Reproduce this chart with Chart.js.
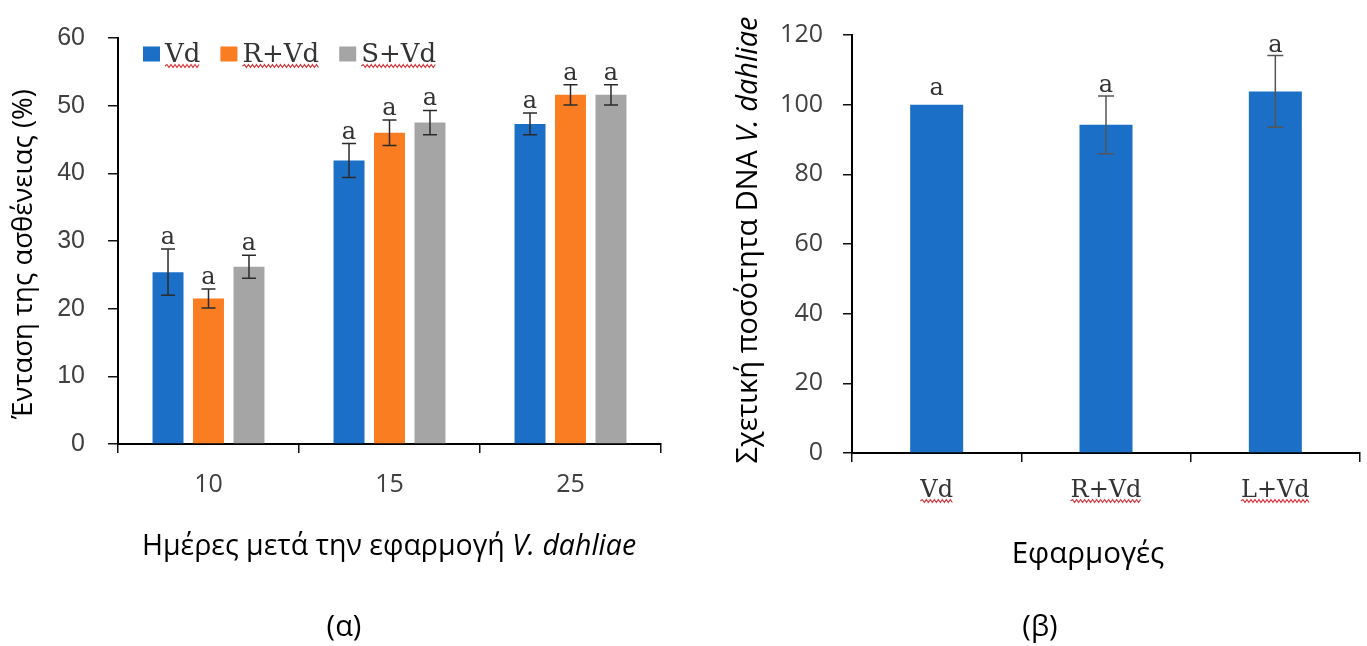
<!DOCTYPE html>
<html>
<head>
<meta charset="utf-8">
<script src="https://cdn.jsdelivr.net/npm/chart.js@4.4.0/dist/chart.umd.min.js"></script>
<style>
  html, body { margin: 0; padding: 0; background: #ffffff; }
  #wrap { position: relative; width: 1367px; height: 646px; overflow: hidden; }
  #wrap canvas { position: absolute; top: 0; }
</style>
</head>
<body>
<div id="wrap">
  <canvas id="severity" width="680" height="646" style="left:0px"></canvas>
  <canvas id="dna" width="687" height="646" style="left:680px"></canvas>
</div>
<script>
// ---- Disease severity (%) by days after V. dahliae inoculation ----
const days = ['10', '15', '25'];
const vdSeverity      = [25.4, 41.9, 47.3];
const vdSeverityErr   = [3.4, 2.5, 1.6];
const rvdSeverity     = [21.5, 46.0, 51.6];
const rvdSeverityErr  = [1.4, 1.9, 1.5];
const svdSeverity     = [26.2, 47.5, 51.6];
const svdSeverityErr  = [1.7, 1.8, 1.5];
const vdLetters  = ['a', 'a', 'a'];
const rvdLetters = ['a', 'a', 'a'];
const svdLetters = ['a', 'a', 'a'];
const severityTicks = [0, 10, 20, 30, 40, 50, 60];

// ---- Relative V. dahliae DNA amount per treatment ----
const treatments = ['Vd', 'R+Vd', 'L+Vd'];
const dnaAmount  = [100, 94.2, 103.8];
const dnaErr     = [0, 8.3, 10.3];
const dnaLetters = ['a', 'a', 'a'];
const dnaTicks   = [0, 20, 40, 60, 80, 100, 120];

const BLUE = '#1b6fc6';
const ORANGE = '#fa7d22';
const GRAY = '#a5a5a5';
const SANS = "'Open Sans', 'Noto Sans', sans-serif";
const SERIF = "'DejaVu Serif', 'Liberation Serif', serif";

// Draws a row of text runs (some italic) centred on (cx, cy), optionally rotated.
function drawRuns(ctx, runs, cx, cy, size, angle, color) {
  ctx.save();
  ctx.translate(cx, cy);
  ctx.rotate(angle || 0);
  ctx.textBaseline = 'middle';
  ctx.textAlign = 'left';
  ctx.fillStyle = color || '#000';
  let total = 0;
  const widths = runs.map(r => {
    ctx.font = (r.italic ? 'italic ' : '') + size + 'px ' + SANS;
    const w = ctx.measureText(r.text).width;
    total += w;
    return w;
  });
  let x = -total / 2;
  runs.forEach((r, i) => {
    ctx.font = (r.italic ? 'italic ' : '') + size + 'px ' + SANS;
    ctx.fillText(r.text, x, 0);
    x += widths[i];
  });
  ctx.restore();
}

// Red wavy spell-check style underline.
function wavyLine(ctx, x0, x1, y) {
  ctx.save();
  ctx.strokeStyle = '#d8393f';
  ctx.lineWidth = 1.2;
  ctx.beginPath();
  let up = true;
  ctx.moveTo(x0, y);
  for (let x = x0 + 2; x <= x1; x += 2) {
    ctx.lineTo(x, up ? y - 1.5 : y + 1.5);
    up = !up;
  }
  ctx.stroke();
  ctx.restore();
}

// Error bars and significance letters from each dataset's errors/letters arrays.
const errorBarPlugin = {
  id: 'errorBars',
  afterDatasetsDraw(chart, args, opts) {
    const ctx = chart.ctx;
    const yScale = chart.scales.y;
    chart.data.datasets.forEach((ds, i) => {
      const meta = chart.getDatasetMeta(i);
      meta.data.forEach((bar, j) => {
        const v = ds.data[j];
        const e = (ds.errors && ds.errors[j]) || 0;
        const yTop = yScale.getPixelForValue(v + e);
        const yBot = yScale.getPixelForValue(v - e);
        const x = bar.x;
        if (e > 0) {
          ctx.save();
          ctx.strokeStyle = opts.color;
          ctx.lineWidth = 1.5;
          ctx.beginPath();
          ctx.moveTo(x, yTop); ctx.lineTo(x, yBot);
          ctx.moveTo(x - opts.cap, yTop); ctx.lineTo(x + opts.cap, yTop);
          ctx.moveTo(x - opts.cap, yBot); ctx.lineTo(x + opts.cap, yBot);
          ctx.stroke();
          ctx.restore();
        }
        if (ds.letters && ds.letters[j]) {
          ctx.save();
          ctx.fillStyle = '#333333';
          ctx.font = opts.letterSize + 'px ' + SERIF;
          ctx.textAlign = 'center';
          ctx.textBaseline = 'alphabetic';
          ctx.fillText(ds.letters[j], x, yTop - (e > 0 ? opts.gap : opts.gapNoErr));
          ctx.restore();
        }
      });
    });
  }
};

// Free text: axis titles with italic species name, and panel captions.
const textPlugin = {
  id: 'freeText',
  afterDraw(chart, args, opts) {
    (opts.items || []).forEach(it => {
      drawRuns(chart.ctx, it.runs, it.x, it.y, it.size, it.angle, it.color);
    });
  }
};

// Legend drawn inside the plot, top-left.
const innerLegendPlugin = {
  id: 'innerLegend',
  afterDraw(chart, args, opts) {
    if (!opts.show) return;
    const ctx = chart.ctx;
    let x = opts.x;
    ctx.save();
    ctx.font = opts.size + 'px ' + SERIF;
    ctx.textBaseline = 'middle';
    ctx.textAlign = 'left';
    chart.data.datasets.forEach(ds => {
      ctx.fillStyle = ds.backgroundColor;
      ctx.fillRect(x, opts.y - 7.5, 17, 15);
      const tx = x + 22;
      const w = ctx.measureText(ds.label).width;
      ctx.fillStyle = '#333333';
      ctx.fillText(ds.label, tx, opts.y + 1);
      wavyLine(ctx, tx, tx + w, opts.y + 12);
      x = tx + w + 20;
    });
    ctx.restore();
  }
};

// Wavy underline under category labels.
const tickUnderlinePlugin = {
  id: 'tickUnderline',
  afterDraw(chart, args, opts) {
    if (!opts.show) return;
    const ctx = chart.ctx;
    const xs = chart.scales.x;
    ctx.save();
    ctx.font = opts.size + 'px ' + SERIF;
    xs.ticks.forEach((t, i) => {
      const label = chart.data.labels[i];
      const w = ctx.measureText(label).width;
      const cx = xs.getPixelForTick(i);
      wavyLine(ctx, cx - w / 2, cx + w / 2, opts.y);
    });
    ctx.restore();
  }
};

Chart.register(errorBarPlugin, textPlugin, innerLegendPlugin, tickUnderlinePlugin);

function axisStyle(extra) {
  return Object.assign({
    border: { display: true, color: '#000000', width: 2 },
  }, extra);
}

// Left panel: grouped bars
new Chart(document.getElementById('severity'), {
  type: 'bar',
  data: {
    labels: days,
    datasets: [
      { label: 'Vd',   data: vdSeverity,  errors: vdSeverityErr,  letters: vdLetters,  backgroundColor: BLUE },
      { label: 'R+Vd', data: rvdSeverity, errors: rvdSeverityErr, letters: rvdLetters, backgroundColor: ORANGE },
      { label: 'S+Vd', data: svdSeverity, errors: svdSeverityErr, letters: svdLetters, backgroundColor: GRAY }
    ]
  },
  options: {
    responsive: false,
    animation: false,
    events: [],
    categoryPercentage: 0.671,
    barPercentage: 0.765,
    layout: { padding: { left: 0, right: 19, top: 20, bottom: 0 } },
    plugins: {
      legend: { display: false },
      tooltip: { enabled: false },
      errorBars: { color: '#2b2b2b', cap: 7, gap: 5, gapNoErr: 8, letterSize: 24 },
      innerLegend: { show: true, x: 143, y: 54, size: 26 },
      tickUnderline: { show: false },
      freeText: {
        items: [
          { runs: [{ text: 'Ένταση της ασθένειας (%)' }], x: 24, y: 254, size: 27.5, angle: -Math.PI / 2, color: '#000' },
          { runs: [{ text: 'Ημέρες μετά την εφαρμογή ' }, { text: 'V. dahliae', italic: true }], x: 389, y: 547, size: 28.5, color: '#000' },
          { runs: [{ text: '(α)' }], x: 344, y: 628, size: 29, color: '#000' }
        ]
      }
    },
    scales: {
      x: axisStyle({
        grid: { display: true, drawOnChartArea: false, drawTicks: true, tickLength: 9, color: '#111111', lineWidth: 1.5, offset: true },
        ticks: { color: '#404040', font: { family: SANS, size: 25 }, padding: 17, maxRotation: 0 },
        afterFit(s) { s.height = 202; }
      }),
      y: axisStyle({
        min: 0, max: 60,
        afterBuildTicks(s) { s.ticks = severityTicks.map(v => ({ value: v })); },
        grid: { display: true, drawOnChartArea: false, drawTicks: true, tickLength: 10, color: '#111111', lineWidth: 1.5 },
        ticks: { color: '#404040', font: { family: "'Liberation Sans Narrow', 'Liberation Sans', sans-serif", size: 25 }, padding: 23 },
        afterFit(s) { s.width = 118; }
      })
    }
  }
});

// Right panel: single series
new Chart(document.getElementById('dna'), {
  type: 'bar',
  data: {
    labels: treatments,
    datasets: [
      { label: 'DNA', data: dnaAmount, errors: dnaErr, letters: dnaLetters, backgroundColor: BLUE }
    ]
  },
  options: {
    responsive: false,
    animation: false,
    events: [],
    categoryPercentage: 1,
    barPercentage: 0.313,
    layout: { padding: { left: 0, right: 7, top: 27, bottom: 0 } },
    plugins: {
      legend: { display: false },
      tooltip: { enabled: false },
      errorBars: { color: '#555555', cap: 8, gap: 4, gapNoErr: 10, letterSize: 24 },
      innerLegend: { show: false },
      tickUnderline: { show: true, y: 501, size: 24 },
      freeText: {
        items: [
          { runs: [{ text: 'Σχετική ποσότητα DNA ' }, { text: 'V. dahliae', italic: true }], x: 69, y: 240, size: 29, angle: -Math.PI / 2, color: '#000' },
          { runs: [{ text: 'Εφαρμογές' }], x: 408, y: 555, size: 29.5, color: '#000' },
          { runs: [{ text: '(β)' }], x: 360, y: 628, size: 29, color: '#000' }
        ]
      }
    },
    scales: {
      x: axisStyle({
        grid: { display: true, drawOnChartArea: false, drawTicks: true, tickLength: 9, color: '#111111', lineWidth: 1.5, offset: true },
        ticks: { color: '#333333', font: { family: SERIF, size: 24 }, padding: 14, maxRotation: 0 },
        afterFit(s) { s.height = 193; }
      }),
      y: axisStyle({
        min: 0, max: 120,
        afterBuildTicks(s) { s.ticks = dnaTicks.map(v => ({ value: v })); },
        grid: { display: true, drawOnChartArea: false, drawTicks: true, tickLength: 9, color: '#111111', lineWidth: 1.5 },
        ticks: { color: '#404040', font: { family: SANS, size: 25 }, padding: 20 },
        afterFit(s) { s.width = 172; }
      })
    }
  }
});
</script>
</body>
</html>
